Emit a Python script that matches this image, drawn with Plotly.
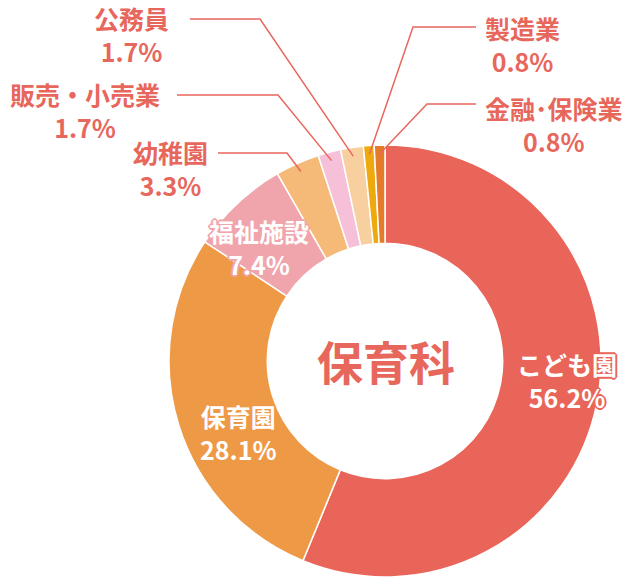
import plotly.graph_objects as go
import math

# ---- data ----
categories = ["こども園", "保育園", "福祉施設", "幼稚園", "販売・小売業", "公務員", "製造業", "金融･保険業"]
values = [56.2, 28.1, 7.4, 3.3, 1.7, 1.7, 0.8, 0.8]
colors = ["#E9655A", "#EE9945", "#F0A4AC", "#F6BA78", "#F5C0D8", "#F8D09F", "#EEA90F", "#E57A28"]
center_title = "保育科"

W, H = 630, 580
CX, CY, R = 385, 361, 216
TEXT_COLOR = "#E8675C"
FONT = "Noto Sans CJK JP, Noto Sans, sans-serif"
FS = 25

def px(x):
    return x / W

def py(y):
    return 1 - y / H

fig = go.Figure(go.Pie(
    labels=categories,
    values=values,
    sort=False,
    direction="clockwise",
    rotation=0,
    hole=0.545,
    marker=dict(colors=colors, line=dict(color="white", width=1.5)),
    textinfo="none",
    hoverinfo="label+percent",
    domain=dict(x=[px(CX - R), px(CX + R)], y=[py(CY + R), py(CY - R)]),
    showlegend=False,
))

outside = {
    "公務員": dict(pos=(131, 34), line=[(190, 19), (260, 19)]),
    "販売・小売業": dict(pos=(85, 110), line=[(177, 95), (278, 95)]),
    "幼稚園": dict(pos=(170, 168), line=[(218, 153), (287, 153)]),
    "製造業": dict(pos=(522, 44), line=[(476, 27), (413, 27)]),
    "金融･保険業": dict(pos=(554, 125), line=[(476, 104), (427, 104)]),
}
inside = {
    "こども園": dict(pos=(567, 380), outline="#E9655A"),
    "保育園": dict(pos=(238, 432), outline="#EE9945"),
    "福祉施設": dict(pos=(259, 248), outline="#F0A4AC"),
}

total = sum(values)
cum = 0.0
mid_angle = {}
for c, v in zip(categories, values):
    mid_angle[c] = (cum + v / 2) / total * 2 * math.pi
    cum += v

annotations = []
shapes = []

for c, v in zip(categories, values):
    txt = f"{c}<br>{v:.1f}%"
    if c in outside:
        o = outside[c]
        annotations.append(dict(
            x=px(o["pos"][0]), y=py(o["pos"][1]), xref="paper", yref="paper",
            text=txt, showarrow=False, xanchor="center", yanchor="middle",
            font=dict(family=FONT, size=FS, color=TEXT_COLOR, weight=600),
        ))
        a = mid_angle[c]
        ex = CX + 0.96 * R * math.sin(a)
        ey = CY - 0.96 * R * math.cos(a)
        pts = o["line"] + [(ex, ey)]
        path = "M " + " L ".join(f"{px(x):.5f},{py(y):.5f}" for x, y in pts)
        shapes.append(dict(type="path", xref="paper", yref="paper", path=path,
                           line=dict(color=TEXT_COLOR, width=1.5)))
    elif c in inside:
        o = inside[c]
        oc = o["outline"]
        shadow = ", ".join(f"{dx}px {dy}px 0 {oc}" for dx, dy in
                           [(1, 1), (-1, -1), (1, -1), (-1, 1), (0, 2), (0, -2), (2, 0), (-2, 0)])
        annotations.append(dict(
            x=px(o["pos"][0]), y=py(o["pos"][1]), xref="paper", yref="paper",
            text=txt, showarrow=False, xanchor="center", yanchor="middle",
            font=dict(family=FONT, size=FS, color="white", weight=600, shadow=shadow),
        ))

annotations.append(dict(
    x=px(386), y=py(360), xref="paper", yref="paper", text=center_title,
    showarrow=False, xanchor="center", yanchor="middle",
    font=dict(family=FONT, size=46, color=TEXT_COLOR, weight=700),
))

fig.update_layout(
    width=W, height=H,
    margin=dict(l=0, r=0, t=0, b=0),
    paper_bgcolor="white", plot_bgcolor="white",
    annotations=annotations, shapes=shapes,
)

fig.write_html(
    "out.html",
    config={"displayModeBar": False},
    post_script="document.body.style.margin='0';document.body.style.overflow='hidden';",
)
